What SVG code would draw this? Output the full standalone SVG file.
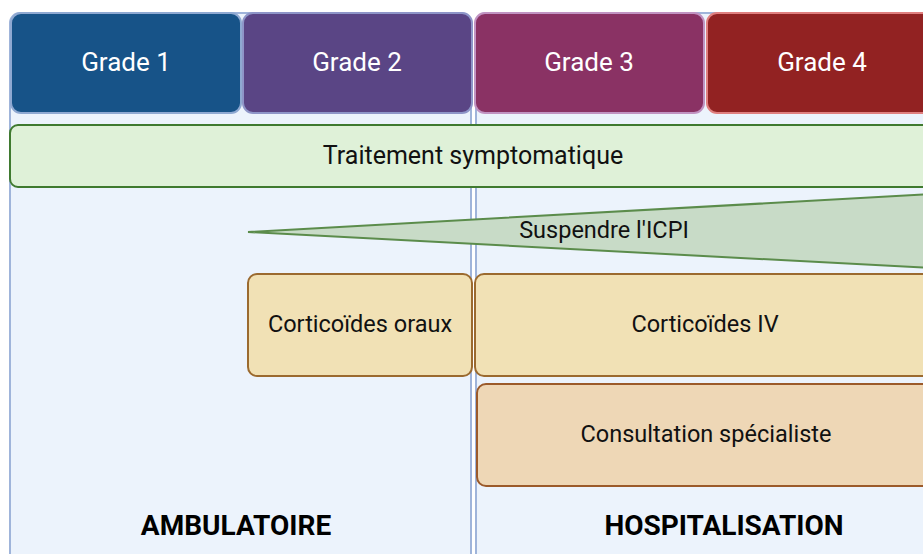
<svg xmlns="http://www.w3.org/2000/svg" width="923" height="554" viewBox="0 0 923 554">
<style>
text{font-family:Roboto,"Liberation Sans",sans-serif;text-anchor:middle;dominant-baseline:central}
.zone{fill:#ecf3fc;stroke:#9fb4da;stroke-width:2}
.grade{stroke-width:2}
.gt{fill:#ffffff;font-size:26px}
.bt{fill:#111111;font-size:23.5px}
.big{font-size:25px}
.zt{fill:#000000;font-size:28px;font-weight:bold}
.cort{fill:#f1e1b5;stroke:#9b6a2f;stroke-width:2}
</style>
<rect width="923" height="554" fill="#ffffff"/>
<g id="zone-ambulatoire">
<rect class="zone" x="10" y="13" width="461" height="570" rx="10"/>
<text class="zt" x="236" y="525">AMBULATOIRE</text>
</g>
<g id="zone-hospitalisation">
<rect class="zone" x="476" y="13" width="496" height="570" rx="10"/>
<text class="zt" x="724" y="525">HOSPITALISATION</text>
</g>
<g id="grade1">
<rect class="grade" x="11" y="13" width="230" height="100" rx="10" fill="#175388" stroke="#8fa9d2"/>
<text class="gt" x="126" y="62">Grade 1</text>
</g>
<g id="grade2">
<rect class="grade" x="243" y="13" width="229" height="100" rx="10" fill="#5a4585" stroke="#8e95c8"/>
<text class="gt" x="357" y="62">Grade 2</text>
</g>
<g id="grade3">
<rect class="grade" x="475" y="13" width="229" height="100" rx="10" fill="#8a3264" stroke="#c193c2"/>
<text class="gt" x="589" y="62">Grade 3</text>
</g>
<g id="grade4">
<rect class="grade" x="707" y="13" width="230" height="100" rx="10" fill="#922222" stroke="#e07f7f"/>
<text class="gt" x="822" y="62">Grade 4</text>
</g>
<g id="traitement">
<rect x="10" y="125" width="926" height="62" rx="8" fill="#dff1d8" stroke="#3f7a2f" stroke-width="2"/>
<text class="bt big" x="473" y="155">Traitement symptomatique</text>
</g>
<g id="suspendre">
<polygon points="248,232 960,192.5 960,269.5" fill="#c8dbc7" stroke="#5b8c4b" stroke-width="2"/>
<text class="bt" x="604" y="230">Suspendre l'ICPI</text>
</g>
<g id="corticoides-oraux">
<rect class="cort" x="248" y="274" width="224" height="102" rx="9"/>
<text class="bt" x="360" y="324">Corticoïdes oraux</text>
</g>
<g id="corticoides-iv">
<rect class="cort" x="475" y="274" width="462" height="102" rx="9"/>
<text class="bt" x="705" y="324">Corticoïdes IV</text>
</g>
<g id="consultation">
<rect x="477" y="384" width="460" height="102" rx="9" fill="#eed7b6" stroke="#9b5a2a" stroke-width="2"/>
<text class="bt" x="706" y="434">Consultation spécialiste</text>
</g>
<g id="connectors"></g>
</svg>
